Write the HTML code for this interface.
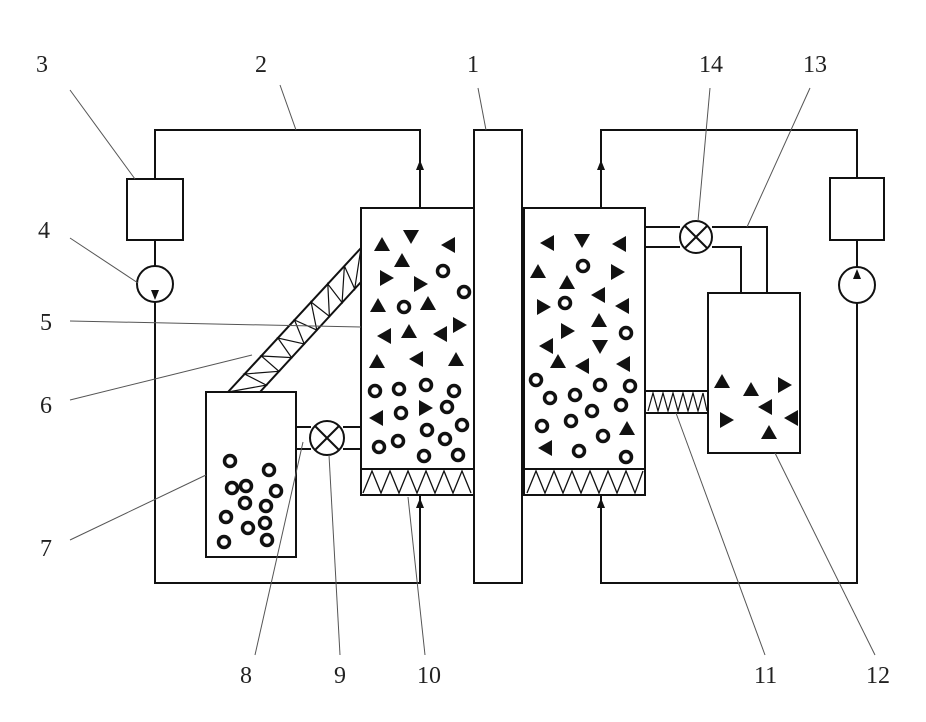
<!DOCTYPE html>
<html><head><style>body{margin:0;background:#fff}svg{display:block}text{font-family:"Liberation Serif",serif;font-size:24px;fill:#222}</style></head><body>
<svg width="926" height="722" viewBox="0 0 926 722" xmlns="http://www.w3.org/2000/svg">
<defs>
<g id="o"><circle r="5.5" fill="none" stroke="#111" stroke-width="3.5"/></g>
<g id="tu"><polygon points="0,-8 8,6 -8,6" fill="#111"/></g>
<g id="tr"><polygon points="8,0 -6,-8 -6,8" fill="#111"/></g>
<g id="tl"><polygon points="-8,0 6,-8 6,8" fill="#111"/></g>
<g id="td"><polygon points="0,8 8,-6 -8,-6" fill="#111"/></g>
</defs>
<g fill="none" stroke="#111" stroke-width="2">
<polyline points="420,208 420,130 155,130 155,179"/>
<rect x="127" y="179" width="56" height="61"/>
<line x1="155" y1="240" x2="155" y2="266"/>
<circle cx="155" cy="284" r="18"/>
<polyline points="155,302 155,583 420,583 420,495"/>
<polyline points="601,208 601,130 857,130 857,178"/>
<rect x="830" y="178" width="54" height="62"/>
<line x1="857" y1="240" x2="857" y2="267"/>
<circle cx="857" cy="285" r="18"/>
<polyline points="857,303 857,583 601,583 601,495"/>
<rect x="474" y="130" width="48" height="453"/>
<rect x="361" y="208" width="113" height="287"/>
<line x1="361" y1="469" x2="474" y2="469"/>
<rect x="524" y="208" width="121" height="287"/>
<line x1="524" y1="469" x2="645" y2="469"/>
<polyline points="363,493 372,471 381,493 390,471 399,493 408,471 417,493 426,471 435,493 444,471 453,493 462,471 471,493" stroke-width="1.3"/>
<polyline points="527,493 536,471 545,493 554,471 563,493 572,471 581,493 590,471 599,493 608,471 617,493 626,471 635,493 643,471" stroke-width="1.3"/>
<rect x="206" y="392" width="90" height="165"/>
<line x1="296" y1="427" x2="311" y2="427"/><line x1="296" y1="449" x2="311" y2="449"/>
<line x1="343" y1="427" x2="361" y2="427"/><line x1="343" y1="449" x2="361" y2="449"/>
<circle cx="327" cy="438" r="17"/>
<line x1="315" y1="426" x2="339" y2="450"/><line x1="339" y1="426" x2="315" y2="450"/>
<line x1="228" y1="392" x2="361" y2="248"/>
<line x1="260" y1="392" x2="361" y2="282"/>
<polyline points="228,392 266.3,385.1 244.6,374 278.9,371.3 261.3,356 291.6,357.6 277.9,338 304.2,343.9 294.5,320 316.8,330.1 311.1,302 329.4,316.4 327.8,284 342.1,302.6 344.4,266 354.7,288.9 361,248" stroke-width="1.2"/>
<line x1="645" y1="227" x2="680" y2="227"/><line x1="645" y1="247" x2="680" y2="247"/>
<circle cx="696" cy="237" r="16"/>
<line x1="685" y1="226" x2="707" y2="248"/><line x1="707" y1="226" x2="685" y2="248"/>
<polyline points="712,227 767,227 767,293"/>
<polyline points="712,247 741,247 741,293"/>
<rect x="708" y="293" width="92" height="160"/>
<line x1="645" y1="391" x2="708" y2="391"/><line x1="645" y1="413" x2="708" y2="413"/>
<polyline points="648,411 653,393 658,411 663,393 668,411 673,393 678,411 683,393 688,411 693,393 698,411 703,393 707,411" stroke-width="1.2"/>
</g>
<g fill="#111">
<polygon points="420,160 416,170 424,170"/>
<polygon points="601,160 597,170 605,170"/>
<polygon points="420,498 416,508 424,508"/>
<polygon points="601,498 597,508 605,508"/>
<polygon points="155,300 151,290 159,290"/>
<polygon points="857,269 853,279 861,279"/>
</g>
<g stroke="#555" stroke-width="1">
<line x1="70" y1="90" x2="135" y2="179"/>
<line x1="280" y1="85" x2="296" y2="130"/>
<line x1="478" y1="88" x2="486" y2="130"/>
<line x1="710" y1="88" x2="698" y2="221"/>
<line x1="810" y1="88" x2="747" y2="227"/>
<line x1="70" y1="238" x2="138" y2="283"/>
<line x1="70" y1="321" x2="361" y2="327"/>
<line x1="70" y1="400" x2="252" y2="355"/>
<line x1="70" y1="540" x2="206" y2="475"/>
<line x1="255" y1="655" x2="303" y2="442"/>
<line x1="340" y1="655" x2="329" y2="455"/>
<line x1="425" y1="655" x2="408" y2="497"/>
<line x1="765" y1="655" x2="676" y2="413"/>
<line x1="875" y1="655" x2="775" y2="453"/>
</g>
<text x="36" y="72">3</text><text x="255" y="72">2</text><text x="467" y="72">1</text>
<text x="699" y="72">14</text><text x="803" y="72">13</text>
<text x="38" y="238">4</text><text x="40" y="330">5</text><text x="40" y="413">6</text><text x="40" y="556">7</text>
<text x="240" y="683">8</text><text x="334" y="683">9</text><text x="417" y="683">10</text>
<text x="754" y="683">11</text><text x="866" y="683">12</text>
<use href="#tu" x="382" y="245"/><use href="#td" x="411" y="236"/><use href="#tl" x="449" y="245"/>
<use href="#tu" x="402" y="261"/><use href="#tr" x="386" y="278"/><use href="#tr" x="420" y="284"/>
<use href="#o" x="443" y="271"/><use href="#o" x="464" y="292"/>
<use href="#tu" x="378" y="306"/><use href="#o" x="404" y="307"/><use href="#tu" x="428" y="304"/>
<use href="#tl" x="385" y="336"/><use href="#tu" x="409" y="332"/><use href="#tl" x="441" y="334"/><use href="#tr" x="459" y="325"/>
<use href="#tu" x="377" y="362"/><use href="#tl" x="417" y="359"/><use href="#tu" x="456" y="360"/>
<use href="#o" x="375" y="391"/><use href="#o" x="399" y="389"/><use href="#o" x="426" y="385"/><use href="#o" x="454" y="391"/>
<use href="#tl" x="377" y="418"/><use href="#o" x="401" y="413"/><use href="#tr" x="425" y="408"/><use href="#o" x="447" y="407"/>
<use href="#o" x="427" y="430"/><use href="#o" x="462" y="425"/><use href="#o" x="445" y="439"/>
<use href="#o" x="379" y="447"/><use href="#o" x="398" y="441"/><use href="#o" x="424" y="456"/><use href="#o" x="458" y="455"/>
<use href="#tl" x="548" y="243"/><use href="#td" x="582" y="240"/><use href="#tl" x="620" y="244"/>
<use href="#tu" x="538" y="272"/><use href="#o" x="583" y="266"/><use href="#tr" x="617" y="272"/>
<use href="#tu" x="567" y="283"/><use href="#tl" x="599" y="295"/><use href="#tr" x="543" y="307"/><use href="#o" x="565" y="303"/><use href="#tl" x="623" y="306"/>
<use href="#tu" x="599" y="321"/><use href="#tr" x="567" y="331"/><use href="#o" x="626" y="333"/>
<use href="#tl" x="547" y="346"/><use href="#td" x="600" y="346"/><use href="#tu" x="558" y="362"/><use href="#tl" x="583" y="366"/><use href="#tl" x="624" y="364"/>
<use href="#o" x="536" y="380"/><use href="#o" x="600" y="385"/><use href="#o" x="630" y="386"/>
<use href="#o" x="550" y="398"/><use href="#o" x="575" y="395"/><use href="#o" x="621" y="405"/>
<use href="#o" x="592" y="411"/><use href="#o" x="571" y="421"/><use href="#o" x="542" y="426"/><use href="#tu" x="627" y="429"/>
<use href="#o" x="603" y="436"/><use href="#tl" x="546" y="448"/><use href="#o" x="579" y="451"/><use href="#o" x="626" y="457"/>
<use href="#tu" x="722" y="382"/><use href="#tu" x="751" y="390"/><use href="#tr" x="784" y="385"/>
<use href="#tl" x="766" y="407"/><use href="#tr" x="726" y="420"/><use href="#tl" x="792" y="418"/><use href="#tu" x="769" y="433"/>
<use href="#o" x="230" y="461"/><use href="#o" x="269" y="470"/><use href="#o" x="232" y="488"/><use href="#o" x="246" y="486"/>
<use href="#o" x="276" y="491"/><use href="#o" x="245" y="503"/><use href="#o" x="266" y="506"/><use href="#o" x="226" y="517"/>
<use href="#o" x="248" y="528"/><use href="#o" x="265" y="523"/><use href="#o" x="224" y="542"/><use href="#o" x="267" y="540"/>
</svg>
</body></html>
